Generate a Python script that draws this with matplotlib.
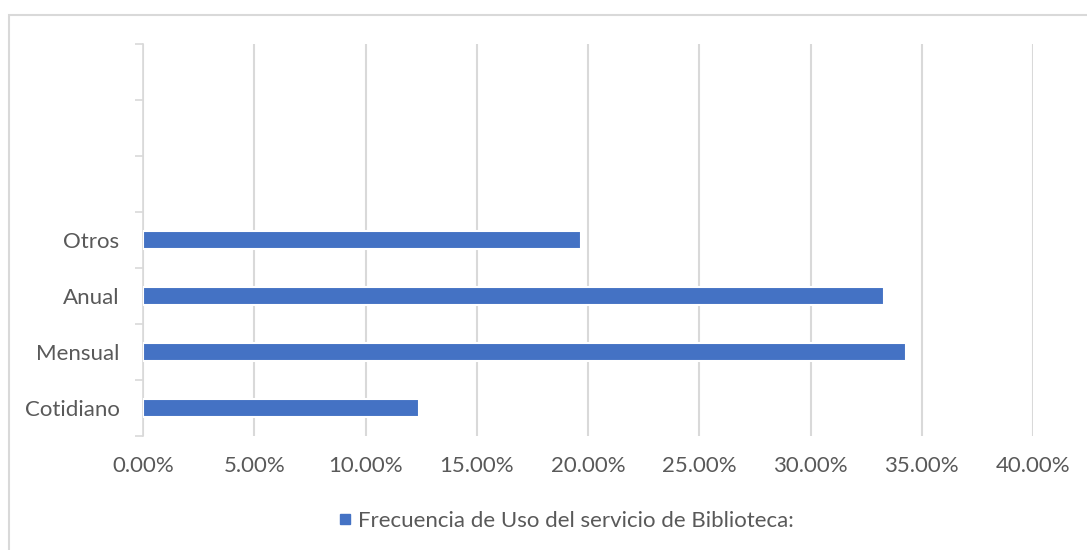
import matplotlib
matplotlib.use("Agg")
import matplotlib.pyplot as plt
from matplotlib.patches import Rectangle
from matplotlib.lines import Line2D
from matplotlib.ticker import FuncFormatter

# Datos
categorias = ["Cotidiano", "Mensual", "Anual", "Otros"]
valores = [0.124, 0.343, 0.333, 0.197]
serie = "Frecuencia de Uso del servicio de Biblioteca:"
n_huecos = 3  # categorias vacias encima de "Otros"

AZUL = "#4472C4"
GRIS_TEXTO = "#595959"
GRIS_LINEA = "#D9D9D9"

plt.rcParams["font.family"] = ["Lato", "DejaVu Sans"]

W, H = 1087, 550
fig = plt.figure(figsize=(W / 100, H / 100), dpi=100)

# marco del area del grafico (se sale por la derecha y abajo)
fig.patches.append(Rectangle((9 / W, -0.1), 1.2, 1 - 15 / H + 0.1,
                             transform=fig.transFigure, fill=False,
                             edgecolor=GRIS_LINEA, linewidth=1.5))

left, right = 143 / W, 1033 / W
bottom, top = 1 - 435.6 / H, 1 - 43.6 / H
ax = fig.add_axes([left, bottom, right - left, top - bottom])

pos = list(range(len(categorias)))
ax.barh(pos, valores, height=0.32, color=AZUL,
        edgecolor="white", linewidth=1.5, zorder=3)

total = len(categorias) + n_huecos
ax.set_ylim(-0.5, total - 0.5)
ax.set_xlim(0, 0.40)
ax.set_xticks([i * 0.05 for i in range(9)])
ax.xaxis.set_major_formatter(FuncFormatter(lambda v, _: f"{v * 100:.2f}%"))

# marcas del eje y en los limites de cada categoria
ax.set_yticks([i - 0.5 for i in range(total + 1)])
ax.set_yticklabels([])
ax.set_yticks(pos, minor=True)
ax.set_yticklabels(categorias, minor=True)

ax.tick_params(axis="y", which="major", length=6, width=1.2,
               color=GRIS_LINEA, direction="out")
ax.tick_params(axis="y", which="minor", length=0, pad=17,
               labelsize=16, labelcolor=GRIS_TEXTO)
ax.tick_params(axis="x", length=0, pad=15, labelsize=16,
               labelcolor=GRIS_TEXTO)

for lado in ["top", "right", "bottom"]:
    ax.spines[lado].set_visible(False)
ax.spines["left"].set_color(GRIS_LINEA)
ax.spines["left"].set_linewidth(1.2)

ax.grid(axis="x", color=GRIS_LINEA, linewidth=1.5, zorder=0)
ax.set_axisbelow(True)

# cuadrito de la leyenda
marca = Line2D([], [], marker="s", linestyle="none", color=AZUL,
               markersize=7)
fig.legend(handles=[marca], labels=[serie], loc="center",
           bbox_to_anchor=(566 / W, 1 - 521 / H), frameon=False,
           fontsize=16, labelcolor=GRIS_TEXTO, handlelength=0.6,
           handletextpad=0.3)

fig.savefig("out.png", dpi=100)
